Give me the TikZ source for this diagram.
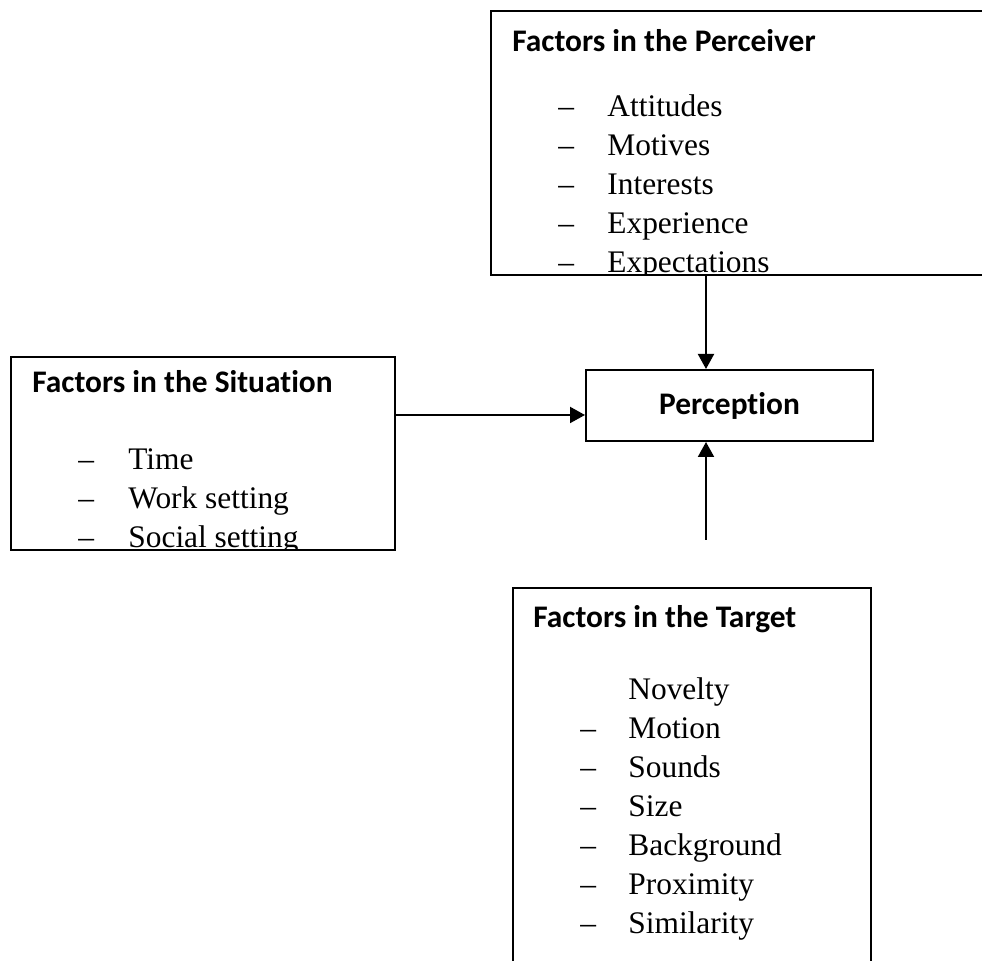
\documentclass[tikz,border=0pt]{standalone}
\usepackage{fontspec}
\setmainfont{Liberation Serif}
\newfontfamily\calib[Ligatures={NoCommon}]{Carlito}
\usetikzlibrary{arrows.meta}
\tikzset{
  frame/.style={draw=black, line width=1pt, rectangle, inner sep=0pt},
  heading/.style={font=\calib\bfseries\fontsize{15.7}{19}\selectfont, anchor=base west, inner sep=0pt},
  entry/.style={font=\fontsize{15.7}{19}\selectfont, anchor=base west, inner sep=0pt},
  link/.style={line width=1pt, -{Triangle[length=7.5pt,width=8pt]}},
}
\begin{document}
\begin{tikzpicture}[x=0.5pt,y=-0.5pt]
\clip (0,0) rectangle (982,961);
\fill[white] (0,0) rectangle (982,961);

% the four frames
\node[frame, anchor=north west, minimum width=305pt, minimum height=132pt] (per) at (490,10) {};
\node[frame, anchor=north west, minimum width=192pt, minimum height=96.5pt] (sit) at (10,356) {};
\node[frame, minimum width=143.5pt, minimum height=35.5pt,
      font=\calib\bfseries\fontsize{15.7}{19}\selectfont] (pcp) at (729.5,405.5) {Perception};
\node[frame, anchor=north west, minimum width=179pt, minimum height=210pt] (tgt) at (512,587) {};

% factors in the perceiver
\begin{scope}
  \clip (per.north west) rectangle ([yshift=0.5pt]per.south east);
  \node[heading] (perh) at (512,52) {Factors in the Perceiver};
  \foreach \t [count=\i from 0] in {Attitudes, Motives, Interests, Experience, Expectations} {
    \node[entry] (perd\i) at (558,117+39*\i) {–};
    \node[entry] (pert\i) at (607,117+39*\i) {\t};
  }
\end{scope}

% factors in the situation
\begin{scope}
  \clip (sit.north west) rectangle ([yshift=0.5pt]sit.south east);
  \node[heading] (sith) at (32,393) {Factors in the Situation};
  \foreach \t [count=\i from 0] in {Time, Work setting, Social setting} {
    \node[entry] (sitd\i) at (78,470+39*\i) {–};
    \node[entry] (sitt\i) at (128,470+39*\i) {\t};
  }
\end{scope}

% factors in the target
\node[heading] (tgth) at (533,628) {Factors in the Target};
\node[entry] (tgtt0) at (628,700) {Novelty};
\foreach \t [count=\i from 1] in {Motion, Sounds, Size, Background, Proximity, Similarity} {
  \node[entry] (tgtd\i) at (580,700+39*\i) {–};
  \node[entry] (tgtt\i) at (628,700+39*\i) {\t};
}

% connectors
\coordinate (ax) at (706,0);
\coordinate (ay) at (0,415);
\coordinate (tfree) at (706,540);
\draw[link] (ax |- per.south) -- (ax |- pcp.north);
\draw[link] (sit.east |- ay) -- (pcp.west |- ay);
\draw[link] (tfree) -- (ax |- pcp.south);
\end{tikzpicture}
\end{document}
